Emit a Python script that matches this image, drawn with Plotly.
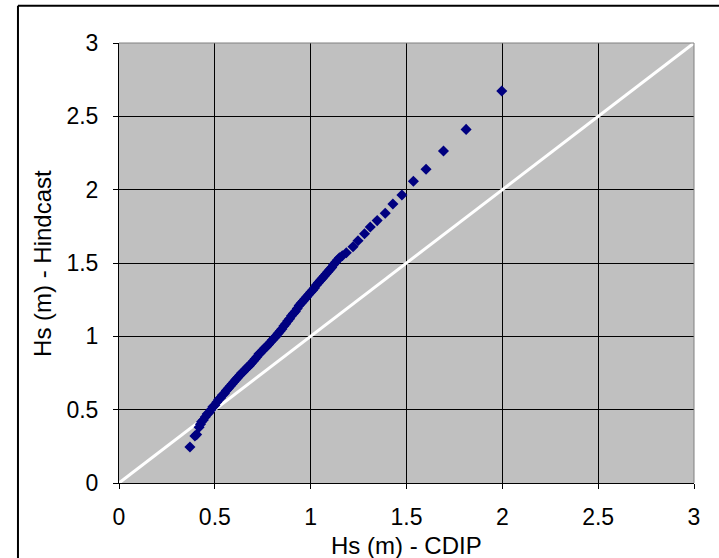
import plotly.graph_objects as go

# Q-Q style pairs: CDIP (x) vs Hindcast (y)
cdip = [0.370, 0.396, 0.405, 0.418, 0.425, 0.431,
        0.44, 0.45, 0.46, 0.47, 0.48, 0.49, 0.50, 0.51, 0.52, 0.53, 0.54, 0.55,
        0.56, 0.57, 0.58, 0.59, 0.60, 0.61, 0.62, 0.63, 0.64, 0.65, 0.66, 0.67,
        0.68, 0.69, 0.70, 0.71, 0.72, 0.73, 0.74, 0.75, 0.76, 0.77, 0.78, 0.79,
        0.80, 0.81, 0.82, 0.83, 0.84, 0.85, 0.86, 0.87, 0.88, 0.89, 0.90, 0.91,
        0.92, 0.93, 0.94, 0.95, 0.96, 0.97, 0.98, 0.99, 1.00, 1.01, 1.02, 1.03,
        1.04, 1.05, 1.06, 1.07, 1.08, 1.09, 1.10, 1.11, 1.12, 1.13, 1.14, 1.15,
        1.165, 1.186, 1.221, 1.247, 1.281, 1.311, 1.347, 1.389, 1.429, 1.476,
        1.536, 1.602, 1.693, 1.811, 1.997]
hindcast = [0.245, 0.320, 0.330, 0.380, 0.400, 0.418,
            0.43, 0.45, 0.47, 0.48, 0.50, 0.52, 0.53, 0.55, 0.57, 0.58, 0.60, 0.61,
            0.63, 0.645, 0.66, 0.675, 0.69, 0.705, 0.72, 0.735, 0.75, 0.76, 0.775, 0.79,
            0.80, 0.815, 0.83, 0.845, 0.86, 0.88, 0.89, 0.905, 0.92, 0.93, 0.945, 0.96,
            0.975, 0.99, 1.00, 1.02, 1.035, 1.05, 1.07, 1.085, 1.105, 1.12, 1.14, 1.155,
            1.17, 1.19, 1.21, 1.225, 1.24, 1.255, 1.27, 1.285, 1.30, 1.315, 1.33, 1.35,
            1.365, 1.38, 1.395, 1.41, 1.425, 1.44, 1.455, 1.47, 1.49, 1.505, 1.52, 1.535,
            1.55, 1.57, 1.611, 1.652, 1.700, 1.745, 1.789, 1.839, 1.902, 1.964,
            2.057, 2.139, 2.264, 2.411, 2.673]

diag = [0, 3]
tick_vals = [0, 0.5, 1, 1.5, 2, 2.5, 3]
tick_text = ["0", "0.5", "1", "1.5", "2", "2.5", "3"]
x_title = "Hs (m) - CDIP"
y_title = "Hs (m) - Hindcast"

FONT = "Liberation Sans, Arial, sans-serif"

fig = go.Figure()
fig.add_trace(go.Scatter(x=diag, y=diag, mode="lines",
                         line=dict(color="white", width=3),
                         hoverinfo="skip", showlegend=False))
fig.add_trace(go.Scatter(x=cdip, y=hindcast, mode="markers",
                         marker=dict(symbol="diamond", size=8.5, color="#000080",
                                     line=dict(width=0)),
                         showlegend=False))

axis_common = dict(
    range=[0, 3], tickvals=tick_vals, ticktext=tick_text,
    showgrid=True, gridcolor="black", gridwidth=1,
    zeroline=False, showline=True, linecolor="black", linewidth=1,
    ticks="outside", ticklen=5, tickcolor="black", tickwidth=1,
    tickfont=dict(family=FONT, size=23, color="black"),
    fixedrange=True,
)
fig.update_xaxes(**axis_common, ticklabelstandoff=8)
fig.update_yaxes(**axis_common, ticklabelstandoff=10)

fig.update_layout(
    width=719, height=558,
    margin=dict(l=119, r=25, t=43, b=75),
    paper_bgcolor="white", plot_bgcolor="#C0C0C0",
    font=dict(family=FONT, color="black"),
    annotations=[
        dict(text=x_title, xref="paper", yref="paper", x=0.5, y=-0.143,
             xanchor="center", yanchor="middle", showarrow=False,
             font=dict(family=FONT, size=24, color="black")),
        dict(text=y_title, xref="paper", yref="paper", x=-0.134, y=0.5,
             xanchor="center", yanchor="middle", showarrow=False, textangle=-90,
             font=dict(family=FONT, size=24, color="black")),
    ],
    shapes=[
        # plot-area border (gray, Excel style)
        dict(type="line", xref="paper", yref="paper", x0=0, x1=1, y0=1, y1=1,
             line=dict(color="#808080", width=1)),
        dict(type="line", xref="paper", yref="paper", x0=1, x1=1, y0=0, y1=1,
             line=dict(color="#808080", width=1)),
        # outer chart border
        dict(type="line", xref="paper", yref="paper", x0=-0.1757, x1=1.2,
             y0=1.0848, y1=1.0848, line=dict(color="black", width=2)),
        dict(type="line", xref="paper", yref="paper", x0=-0.1757, x1=-0.1757,
             y0=-0.3, y1=1.0848, line=dict(color="black", width=2)),
    ],
)

fig.write_html("out.html")
